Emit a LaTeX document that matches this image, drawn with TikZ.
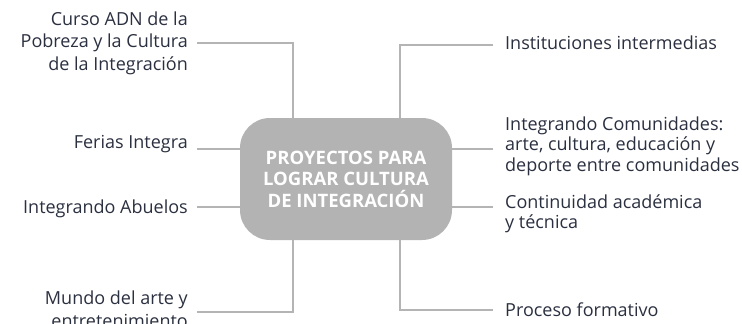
\documentclass[tikz,border=0pt]{standalone}
\usepackage{fontspec}
\setmainfont{Open Sans}
\definecolor{txt}{HTML}{2B3040}
\definecolor{ln}{HTML}{B4B4B4}
\definecolor{boxc}{HTML}{B3B3B3}
\begin{document}
\begin{tikzpicture}[x=1pt,y=-1pt,
  conn/.style={draw=ln,line width=2.2pt},
  lab/.style={text=txt,font=\fontsize{18}{22.5}\selectfont,inner sep=0pt},
  llab/.style={lab,align=right,anchor=east},
  rlab/.style={lab,align=left,anchor=west},
  hub/.style={fill=boxc,rounded corners=30pt,minimum width=212pt,minimum height=122pt,
     text=white,font=\fontsize{18.5}{21.5}\bfseries\selectfont,align=center,inner sep=0pt}]
\useasboundingbox (0,0) rectangle (742,324);
\node[hub] (c) at (346,179) {PROYECTOS PARA\\LOGRAR CULTURA\\DE INTEGRACIÓN};
\coordinate (lx) at (293,0);
\coordinate (rx) at (400,0);
% left
\coordinate (l1) at (197,43);
\coordinate (l2) at (197,149);
\coordinate (l3) at (197,207);
\coordinate (l4) at (197,312);
\node[llab] (t1) at (188,43) {Curso ADN de la\\Pobreza y la Cultura\\de la Integración};
\node[llab] (t2) at (188,144) {Ferias Integra};
\node[llab] (t3) at (188,209) {Integrando Abuelos};
\node[llab] (t4) at (188,309) {Mundo del arte y\\entretenimiento};
% right
\coordinate (r1) at (493,45);
\coordinate (r2) at (493,149);
\coordinate (r3) at (493,207);
\coordinate (r4) at (493,310);
\node[rlab] (u1) at (505,43) {Instituciones intermedias};
\node[rlab,font=\fontsize{18}{20.5}\selectfont] (u2) at (505,146) {Integrando Comunidades:\\arte, cultura, educación y\\deporte entre comunidades};
\node[rlab,font=\fontsize{18}{20.5}\selectfont] (u3) at (505,214) {Continuidad académica\\y técnica};
\node[rlab] (u4) at (505,310) {Proceso formativo};
% connectors
\draw[conn] (l1) -| (c.north -| lx);
\draw[conn] (l2) -- (l2 -| c.west);
\draw[conn] (l3) -- (l3 -| c.west);
\draw[conn] (l4) -| (c.south -| lx);
\draw[conn] (r1) -| (c.north -| rx);
\draw[conn] (r2) -- (r2 -| c.east);
\draw[conn] (r3) -- (r3 -| c.east);
\draw[conn] (r4) -| (c.south -| rx);
\end{tikzpicture}
\end{document}
